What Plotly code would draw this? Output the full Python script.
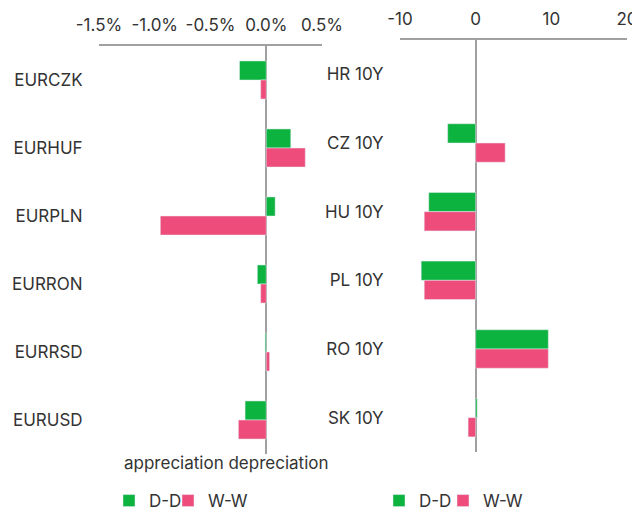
import plotly.graph_objects as go

# ---- data ----
fx_categories = ["EURCZK", "EURHUF", "EURPLN", "EURRON", "EURRSD", "EURUSD"]
fx_dd = [-0.24, 0.22, 0.08, -0.08, -0.01, -0.19]
fx_ww = [-0.05, 0.35, -0.95, -0.05, 0.03, -0.25]
fx_tickvals = [-1.5, -1.0, -0.5, 0.0, 0.5]
fx_ticktext = ["-1.5%", "-1.0%", "-0.5%", "0.0%", "0.5%"]

bond_categories = ["HR 10Y", "CZ 10Y", "HU 10Y", "PL 10Y", "RO 10Y", "SK 10Y"]
bond_dd = [None, -3.7, -6.2, -7.2, 9.6, 0.2]
bond_ww = [None, 3.9, -6.8, -6.8, 9.6, -1.0]
bond_tickvals = [-10, 0, 10, 20]
bond_ticktext = ["-10", "0", "10", "20"]

GREEN = "#0db33f"
PINK = "#ee4d7b"
TEXT = "#333333"
AXIS = "#a0a0a0"
FONT = "Inter"
FS = 17
OFF = 8                     # page body margin
W, H = 640 - OFF, 513 - OFF

def px(x):
    return (x - OFF) / W

def py(y):
    return 1 - (y - OFF) / H

fig = go.Figure()
fig.add_trace(go.Bar(y=fx_categories, x=fx_dd, orientation="h", name="D-D",
                     marker_color=GREEN, xaxis="x", yaxis="y", legend="legend2"))
fig.add_trace(go.Bar(y=fx_categories, x=fx_ww, orientation="h", name="W-W",
                     marker_color=PINK, xaxis="x", yaxis="y", legend="legend3"))
fig.add_trace(go.Bar(y=bond_categories, x=bond_dd, orientation="h", name="D-D",
                     marker_color=GREEN, xaxis="x2", yaxis="y2", legend="legend4"))
fig.add_trace(go.Bar(y=bond_categories, x=bond_ww, orientation="h", name="W-W",
                     marker_color=PINK, xaxis="x2", yaxis="y2", legend="legend5"))
for tr in fig.data:
    tr.showlegend = True

def xax(domain, rng, tv, tt, anchor):
    return dict(domain=domain, range=rng, side="top", tickvals=tv, ticktext=tt,
                showline=True, linecolor=AXIS, linewidth=1.5, showgrid=False,
                zeroline=True, zerolinecolor=AXIS, zerolinewidth=1.5,
                ticks="outside", ticklen=6, tickcolor="rgba(0,0,0,0)",
                tickfont=dict(size=FS, color=TEXT, family=FONT),
                anchor=anchor, automargin=False, fixedrange=True)

def yax(domain, anchor):
    return dict(domain=domain, autorange="reversed", type="category",
                showline=False, showgrid=False, zeroline=False,
                ticks="outside", ticklen=12, tickcolor="rgba(0,0,0,0)",
                tickfont=dict(size=FS, color=TEXT, family=FONT),
                anchor=anchor, automargin=False, fixedrange=True)

def leg(text_x):
    return dict(orientation="h", x=px(text_x - 41), y=py(501), xanchor="left",
                yanchor="middle", font=dict(size=FS, color=TEXT, family=FONT),
                bgcolor="rgba(0,0,0,0)")

fig.update_layout(
    width=W, height=H,
    margin=dict(l=0, r=0, t=0, b=0, autoexpand=False),
    paper_bgcolor="white", plot_bgcolor="white",
    font=dict(family=FONT, size=FS, color=TEXT),
    barmode="group", bargap=0.44, bargroupgap=0,
    xaxis=xax([px(99), px(322)], [-1.5, 0.5], fx_tickvals, fx_ticktext, "y"),
    yaxis=yax([py(454), py(46)], "x"),
    xaxis2=xax([px(400), px(627)], [-10, 20], bond_tickvals, bond_ticktext, "y2"),
    yaxis2=yax([py(452), py(40)], "x2"),
    legend2=leg(150),
    legend3=leg(209),
    legend4=leg(420),
    legend5=leg(484),
    annotations=[dict(text="appreciation depreciation", xref="paper", yref="paper",
                      x=px(226.5), y=py(463), xanchor="center", yanchor="middle",
                      showarrow=False, font=dict(size=FS, color=TEXT, family=FONT))],
)

fig.write_html("out.html")
